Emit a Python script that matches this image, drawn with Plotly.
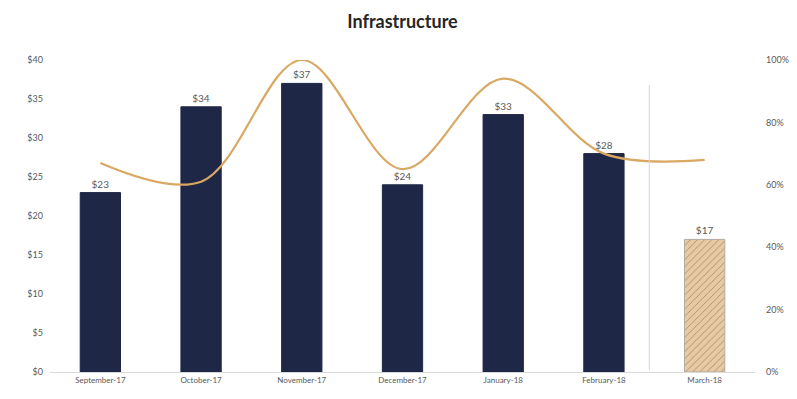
import plotly.graph_objects as go

months = ["September-17", "October-17", "November-17", "December-17", "January-18", "February-18", "March-18"]
spend = [23, 34, 37, 24, 33, 28, 17]
spend_labels = ["$23", "$34", "$37", "$24", "$33", "$28", "$17"]
pct = [0.67, 0.61, 1.00, 0.65, 0.94, 0.70, 0.68]
left_ticks = [0, 5, 10, 15, 20, 25, 30, 35, 40]
left_tick_text = ["$0", "$5", "$10", "$15", "$20", "$25", "$30", "$35", "$40"]
right_ticks = [0, 0.2, 0.4, 0.6, 0.8, 1.0]
right_tick_text = ["0%", "20%", "40%", "60%", "80%", "100%"]

navy = "#1f2747"
tan = "#e8c9a0"
gold = "#d9a862"

bar_colors = [navy] * 6 + [tan]
line_colors = [navy] * 6 + ["#b3aba0"]
patterns = [""] * 6 + ["/"]

fig = go.Figure()
fig.add_trace(go.Bar(
    x=months, y=spend, text=spend_labels, textposition="outside",
    textfont=dict(size=10, color="#595959"),
    marker=dict(color=bar_colors, line=dict(color=line_colors, width=1),
                pattern=dict(shape=patterns, fgcolor="#e0c298", size=5, solidity=0.15)),
    width=0.4, cliponaxis=False, showlegend=False,
))
fig.add_trace(go.Scatter(
    x=months, y=pct, mode="lines", yaxis="y2",
    line=dict(color=gold, width=2.2, shape="spline", smoothing=1.0),
    showlegend=False,
))

fig.add_shape(type="line", xref="x", yref="paper", x0=5.45, x1=5.45, y0=0.005, y1=0.92,
              line=dict(color="#cdd5e4", width=1))

fig.update_layout(
    width=789, height=391,
    margin=dict(l=42, r=42, t=52, b=27, autoexpand=False),
    paper_bgcolor="white", plot_bgcolor="white",
    font=dict(family="Lato", color="#595959", size=8),
    title=dict(text="<b>Infrastructure</b>", x=0.5, xanchor="center", y=0.966, yanchor="middle",
               font=dict(size=18, color="#262626", family="Lato")),
    bargap=0.6,
    xaxis=dict(showline=True, linecolor="#d9d9d9", linewidth=1, showgrid=False,
               ticks="", tickfont=dict(size=8, color="#595959"), automargin=False),
    yaxis=dict(range=[0, 40], tickvals=left_ticks, ticktext=left_tick_text, showgrid=False,
               zeroline=False, showline=False, ticklabelstandoff=6, automargin=False,
               tickfont=dict(size=9, color="#595959")),
    yaxis2=dict(range=[0, 1.0], tickvals=right_ticks, ticktext=right_tick_text, overlaying="y",
                side="right", showgrid=False, zeroline=False, showline=False, automargin=False,
                ticklabelstandoff=10, tickfont=dict(size=9, color="#595959")),
)

fig.write_html("out.html")
